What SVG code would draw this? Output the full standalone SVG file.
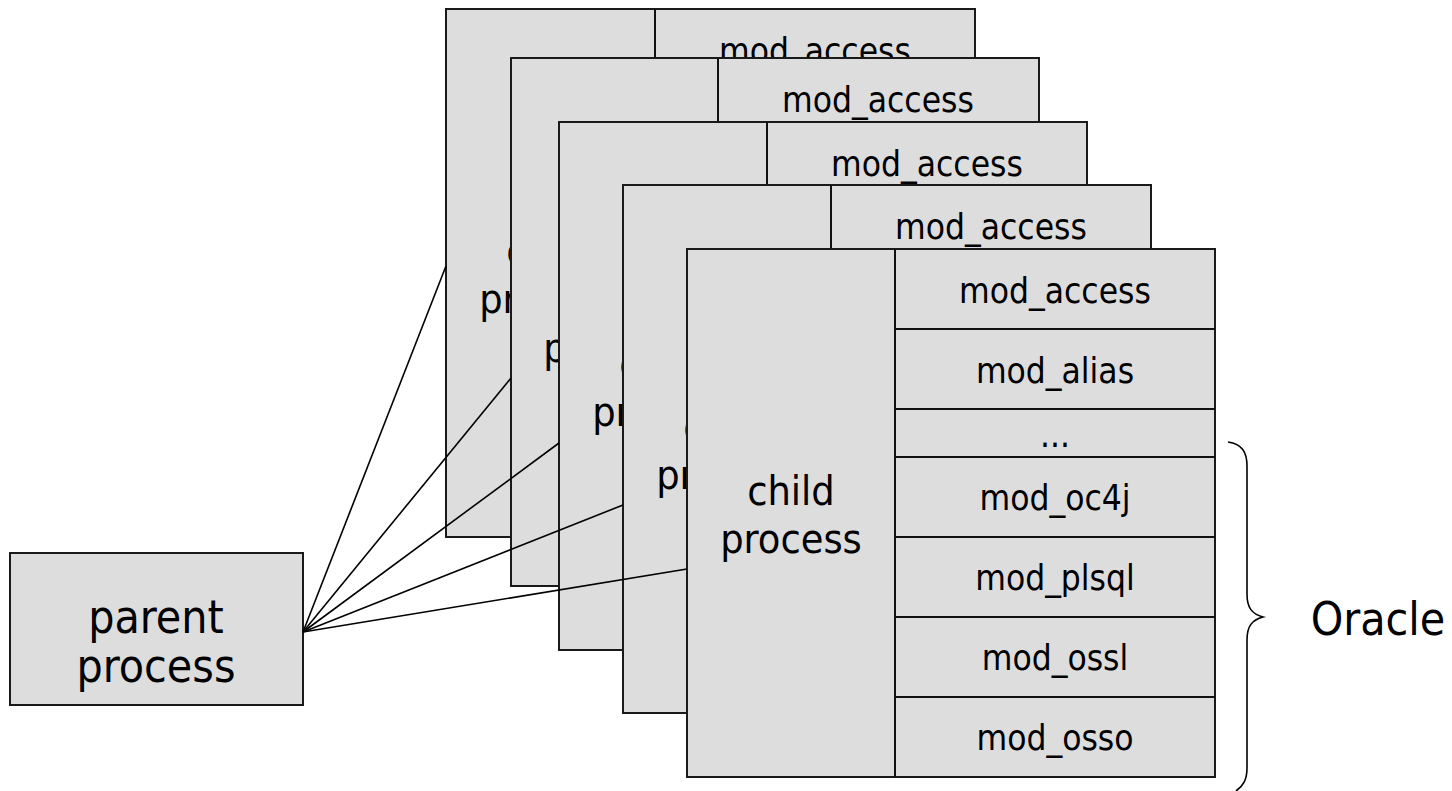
<svg xmlns="http://www.w3.org/2000/svg" width="1452" height="791" viewBox="0 0 1452 791">
<style>
.box{fill:#dddddd;stroke:#1a1a1a;stroke-width:2}
.ln{stroke:#111;stroke-width:2;fill:none}
.t{font-family:"DejaVu Sans Condensed","DejaVu Sans",sans-serif;font-stretch:condensed;fill:#000;text-anchor:middle}
.mod{font-size:35px}
.chd{font-size:41px}
.big{font-size:46px}
.conn{stroke:#000;stroke-width:1.6;fill:none}
</style>
<rect width="1452" height="791" fill="#fff"/>

<g id="child1">
<rect class="box" x="446" y="9" width="529" height="528"/>
<line class="ln" x1="655" y1="9" x2="655" y2="89"/>
<text class="t mod" x="815" y="63">mod_access</text>
<text class="t chd" x="550" y="265">child</text>
<text class="t chd" x="550" y="313">process</text>
</g>

<g id="child2">
<rect class="box" x="511" y="58" width="528" height="528"/>
<line class="ln" x1="718" y1="58" x2="718" y2="138"/>
<text class="t mod" x="878" y="112">mod_access</text>
<text class="t chd" x="614" y="314">child</text>
<text class="t chd" x="614" y="362">process</text>
</g>

<g id="child3">
<rect class="box" x="559" y="122" width="528" height="528"/>
<line class="ln" x1="767" y1="122" x2="767" y2="202"/>
<text class="t mod" x="927" y="176">mod_access</text>
<text class="t chd" x="663" y="378">child</text>
<text class="t chd" x="663" y="426">process</text>
</g>

<g id="child4">
<rect class="box" x="623" y="185" width="528" height="528"/>
<line class="ln" x1="831" y1="185" x2="831" y2="265"/>
<text class="t mod" x="991" y="239">mod_access</text>
<text class="t chd" x="727" y="441">child</text>
<text class="t chd" x="727" y="489">process</text>
</g>

<g id="child5">
<rect class="box" x="687" y="249" width="528" height="528"/>
<line class="ln" x1="895" y1="249" x2="895" y2="777"/>
<line class="ln" x1="895" y1="329" x2="1215" y2="329"/>
<line class="ln" x1="895" y1="409" x2="1215" y2="409"/>
<line class="ln" x1="895" y1="457" x2="1215" y2="457"/>
<line class="ln" x1="895" y1="537" x2="1215" y2="537"/>
<line class="ln" x1="895" y1="617" x2="1215" y2="617"/>
<line class="ln" x1="895" y1="697" x2="1215" y2="697"/>
<text class="t chd" x="791" y="505">child</text>
<text class="t chd" x="791" y="553">process</text>
<text class="t mod" x="1055" y="303">mod_access</text>
<text class="t mod" x="1055" y="383">mod_alias</text>
<text class="t mod" x="1055" y="447">...</text>
<text class="t mod" x="1055" y="510">mod_oc4j</text>
<text class="t mod" x="1055" y="590">mod_plsql</text>
<text class="t mod" x="1055" y="670">mod_ossl</text>
<text class="t mod" x="1055" y="750">mod_osso</text>
</g>

<g id="parent">
<rect class="box" x="10" y="553" width="293" height="152"/>
<text class="t big" x="156" y="633">parent</text>
<text class="t big" x="156" y="682">process</text>
</g>

<g id="connectors">
<line class="conn" x1="303" y1="632" x2="446" y2="266"/>
<line class="conn" x1="303" y1="632" x2="511" y2="378"/>
<line class="conn" x1="303" y1="632" x2="559" y2="443"/>
<line class="conn" x1="303" y1="632" x2="623" y2="505"/>
<line class="conn" x1="303" y1="632" x2="687" y2="569"/>
</g>

<g id="oracle">
<path class="conn" d="M1228,442 C1242,444 1247,452 1247,466 L1247,594 C1247,608 1252,614 1263,617 C1252,620 1247,626 1247,640 L1247,768 C1247,780 1243,786 1236,791"/>
<text class="t big" x="1378" y="635">Oracle</text>
</g>
</svg>
